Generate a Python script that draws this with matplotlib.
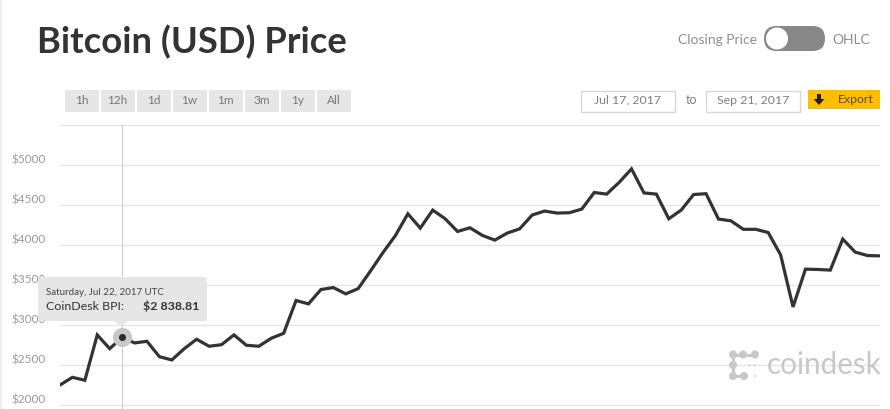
import matplotlib
matplotlib.use("Agg")
import matplotlib.pyplot as plt
from matplotlib.patches import FancyBboxPatch, Rectangle, Circle, Polygon
from matplotlib.transforms import Affine2D

W, H = 890, 409

# daily closing price, Jul 17 - Sep 21 2017
prices = [
    2244, 2340, 2303, 2870, 2698, 2838.81, 2770, 2790, 2598, 2557,
    2698, 2816, 2728, 2748, 2870, 2741, 2728, 2828, 2890, 3300,
    3258, 3437, 3462, 3383, 3449, 3671, 3900, 4113, 4384, 4205,
    4430, 4322, 4163, 4209, 4113, 4055, 4143, 4196, 4368, 4418,
    4393, 4397, 4443, 4650, 4630, 4776, 4945, 4645, 4630, 4322,
    4430, 4625, 4635, 4318, 4296, 4190, 4190, 4150, 3871, 3220,
    3692, 3688, 3680, 4068, 3905, 3862, 3858,
]
y_ticks = [2000, 2500, 3000, 3500, 4000, 4500, 5000, 5500]
y_labels = ["$2000", "$2500", "$3000", "$3500", "$4000", "$4500", "$5000", ""]
ranges = ["1h", "12h", "1d", "1w", "1m", "3m", "1y", "All"]
hover_idx = 5

plt.rcParams["font.family"] = ["Lato", "DejaVu Sans"]

fig = plt.figure(figsize=(W / 100, H / 100), dpi=100, facecolor="white")

# plot area in pixels: x 60-880, y 124.5-409
ax = fig.add_axes([60 / W, 0, 820 / W, (H - 124.5) / H])
ax.set_xlim(0, len(prices) - 1)
ax.set_ylim(1944, 5500)
ax.plot(range(len(prices)), prices, color="#333333", lw=2.3, solid_joinstyle="miter", zorder=3)
ax.axvline(hover_idx - 0.05, color="#cccccc", lw=0.8, zorder=2)
ax.set_yticks(y_ticks, y_labels, color="#999999", fontsize=8.5)
ax.tick_params(axis="y", length=0, pad=10.5)
# labels sit a few pixels above their grid lines
for lab in ax.get_yticklabels():
    lab.set_transform(lab.get_transform() + Affine2D().translate(0, 5.5))
ax.set_xticks([])
ax.grid(axis="y", color="#e6e6e6", lw=1)
ax.set_axisbelow(True)
for s in ax.spines.values():
    s.set_visible(False)
ax.patch.set_alpha(0)
ax.scatter([hover_idx - 0.05], [prices[hover_idx]], s=190, color="#c8c8c8", zorder=4, linewidths=0)
ax.scatter([hover_idx - 0.05], [prices[hover_idx]], s=26, color="#2b2b2b", zorder=5, linewidths=0)

# everything else sits on an overlay in pixel coordinates
ov = fig.add_axes([0, 0, 1, 1], zorder=5)
ov.set_xlim(0, W)
ov.set_ylim(H, 0)
ov.axis("off")


def box(x0, y0, x1, y1, **kw):
    ov.add_patch(Rectangle((x0, y0), x1 - x0, y1 - y0, **kw))


box(0, 0, 2, H, fc="#eeeeee", ec="none")
ov.text(37, 42.5, "Bitcoin (USD) Price", fontsize=26.2, fontweight="bold", color="#333333", va="center")

# closing price / OHLC switch
ov.text(757, 39.5, "Closing Price", fontsize=10, color="#8f8f8f", ha="right", va="center")
ov.text(832, 39.5, "OHLC", fontsize=10, color="#8f8f8f", va="center")
ov.add_patch(FancyBboxPatch((764, 26), 61, 25, boxstyle="round,pad=0,rounding_size=12.5",
                            fc="#888888", ec="none"))
ov.add_patch(Circle((777, 38.5), 11, fc="white", ec="none"))

# range buttons
for i, label in enumerate(ranges):
    x0 = 65 + 36 * i
    box(x0, 90, x0 + 34, 112, fc="#e6e6e6", ec="none")
    ov.text(x0 + 16.5, 100.5, label, fontsize=8.5, color="#777777", ha="center", va="center")

# date inputs
for x0, x1, label in [(581, 675, "Jul 17, 2017"), (706, 800, "Sep 21, 2017")]:
    box(x0, 90.5, x1, 111.5, fc="white", ec="#d8d8d8", lw=1)
    ov.text((x0 + x1) / 2, 100, label, fontsize=8.9, color="#808080", ha="center", va="center")
ov.text(692, 100, "to", fontsize=9, color="#808080", ha="center", va="center")

# export button
box(808, 90, 880, 109, fc="#fdbd00", ec="none")
ov.add_patch(Polygon([(817, 94), (821, 94), (821, 99), (824.5, 99), (819, 105),
                      (813.5, 99), (817, 99)], fc="#222222", ec="none"))
ov.text(856, 99.5, "Export", fontsize=8.8, color="#5a4a20", ha="center", va="center")

# tooltip
ov.add_patch(FancyBboxPatch((38, 277), 169, 44, boxstyle="round,pad=0,rounding_size=2",
                            fc="#e6e6e6", ec="none"))
ov.add_patch(Polygon([(114, 321), (128, 321), (121, 327)], fc="#e6e6e6", ec="none"))
ov.text(45.5, 292.5, "Saturday, Jul 22, 2017 UTC", fontsize=7, color="#444444", va="center")
ov.text(45.5, 306, "CoinDesk BPI:", fontsize=8.9, color="#333333", va="center")
ov.text(199, 306, "$2 838.81", fontsize=8.9, fontweight="bold", color="#333333", ha="right", va="center")

# coindesk logo
logo_dots = [(733, 354.5), (743, 354.5), (755, 354.5), (733, 365), (733, 376), (744, 376)]
for cx, cy in logo_dots:
    ov.add_patch(Circle((cx, cy), 4.0, fc="#c8c8c8", ec="none"))
ov.plot([733, 755], [354.5, 354.5], color="#c8c8c8", lw=2.2)
ov.plot([733, 733], [354.5, 376], color="#c8c8c8", lw=2.2)
ov.plot([733, 744], [376, 376], color="#c8c8c8", lw=2.2)
for cx, cy in [(749, 365), (755, 365), (755, 376)]:
    ov.add_patch(Circle((cx, cy), 0.9, fc="#c8c8c8", ec="none"))
ov.text(766.5, 365, "coindesk", fontsize=21.3, color="#c8c8c8", va="center")

fig.savefig("out.png", dpi=100)
